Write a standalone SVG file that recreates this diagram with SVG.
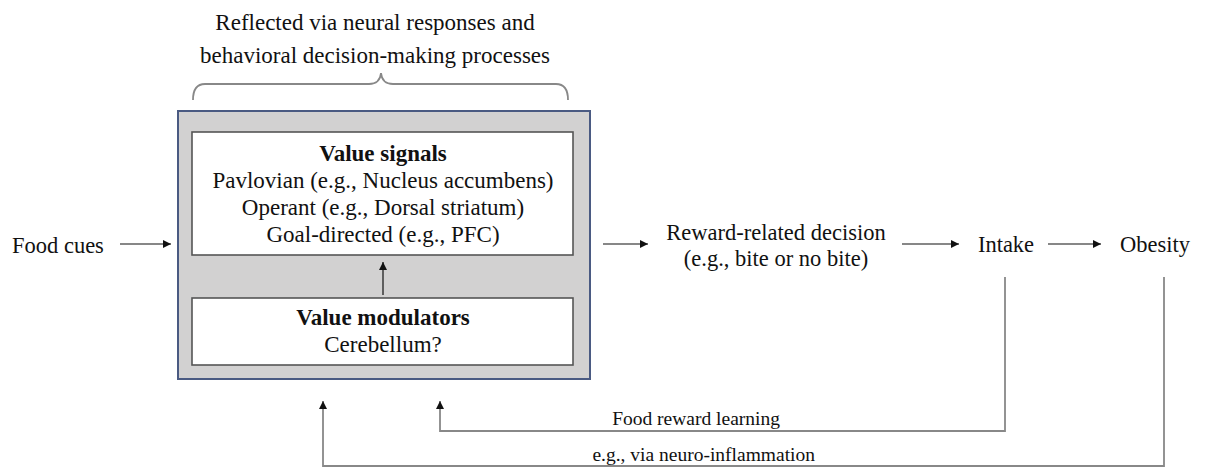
<svg xmlns="http://www.w3.org/2000/svg" width="1212" height="467" viewBox="0 0 1212 467">
<defs>
<style>
.t{font-family:"Liberation Serif","Times New Roman",serif;font-size:22.5px;fill:#111;}
.tb{font-family:"Liberation Serif","Times New Roman",serif;font-size:23px;fill:#111;font-weight:bold;}
.tm{font-family:"Liberation Serif","Times New Roman",serif;font-size:23px;fill:#111;}
.ts{font-family:"Liberation Serif","Times New Roman",serif;font-size:19.5px;fill:#111;}
.c{fill:none;stroke:#111;stroke-width:1.2;}
.fb{fill:none;stroke:#888;stroke-width:1.8;}
</style>
<marker id="ah" viewBox="0 0 10 10" refX="10" refY="5" markerWidth="9" markerHeight="8" markerUnits="userSpaceOnUse" orient="auto">
<path d="M0,0 L10,5 L0,10 z" fill="#111"/>
</marker>
</defs>
<rect width="1212" height="467" fill="#fff"/>

<g id="header">
<text class="tm" x="375" y="30" text-anchor="middle">Reflected via neural responses and</text>
<text class="tm" x="375" y="63" text-anchor="middle">behavioral decision-making processes</text>
<path class="fb" d="M193,100 Q193,84 205,84 L369,84 Q380,84 381,73 Q382,84 393,84 L556,84 Q568,84 568,100"/>
</g>

<g id="value-system">
<rect x="178" y="111" width="412" height="268" fill="#d2d1d1" stroke="#4a5a82" stroke-width="2"/>
</g>

<g id="value-signals">
<rect x="192" y="132" width="381" height="123" fill="#fff" stroke="#555" stroke-width="1.6"/>
<text class="tb" x="383" y="161" text-anchor="middle">Value signals</text>
<text class="tm" x="383" y="188" text-anchor="middle">Pavlovian (e.g., Nucleus accumbens)</text>
<text class="tm" x="383" y="215" text-anchor="middle">Operant (e.g., Dorsal striatum)</text>
<text class="tm" x="383" y="242" text-anchor="middle">Goal-directed (e.g., PFC)</text>
</g>

<g id="value-modulators">
<rect x="192" y="298" width="381" height="67" fill="#fff" stroke="#555" stroke-width="1.6"/>
<text class="tb" x="383" y="325" text-anchor="middle">Value modulators</text>
<text class="tm" x="383" y="352" text-anchor="middle">Cerebellum?</text>
</g>

<g id="food-cues">
<text class="t" x="12" y="253">Food cues</text>
</g>

<g id="decision">
<text class="t" x="776" y="240" text-anchor="middle">Reward-related decision</text>
<text class="t" x="776" y="266" text-anchor="middle">(e.g., bite or no bite)</text>
</g>

<g id="intake">
<text class="t" x="1006" y="252" text-anchor="middle">Intake</text>
</g>

<g id="obesity">
<text class="t" x="1155" y="252" text-anchor="middle">Obesity</text>
</g>

<g id="connectors">
<line class="c" x1="120" y1="244" x2="171" y2="244" marker-end="url(#ah)"/>
<line class="c" x1="383" y1="295" x2="383" y2="262" marker-end="url(#ah)"/>
<line class="c" x1="603" y1="244" x2="648" y2="244" marker-end="url(#ah)"/>
<line class="c" x1="902" y1="244" x2="959" y2="244" marker-end="url(#ah)"/>
<line class="c" x1="1048" y1="244" x2="1101" y2="244" marker-end="url(#ah)"/>
<path class="fb" d="M1005,277 L1005,431 L440,431 L440,401" marker-end="url(#ah)"/>
<path class="fb" d="M1164,277 L1164,466 L323,466 L323,401" marker-end="url(#ah)"/>
<text class="ts" x="780" y="425" text-anchor="end">Food reward learning</text>
<text class="ts" x="815" y="461" text-anchor="end">e.g., via neuro-inflammation</text>
</g>
</svg>
